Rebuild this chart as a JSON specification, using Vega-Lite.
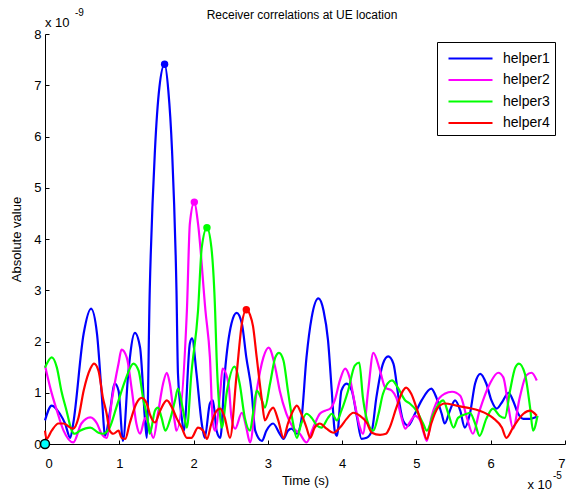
{
  "$schema": "https://vega.github.io/schema/vega-lite/v6.json",
  "width": 520,
  "height": 410,
  "autosize": {"type": "none"},
  "padding": {"left": 45, "top": 34, "right": 3, "bottom": 49},
  "background": "white",
  "config": {
    "view": {"stroke": null},
    "font": "Liberation Sans",
    "axis": {"domainColor": "black", "tickColor": "black", "labelColor": "black", "titleColor": "black", "labelFont": "Liberation Sans", "titleFont": "Liberation Sans", "labelFontSize": 13, "titleFontSize": 13, "titleFontWeight": "normal", "grid": false, "tickSize": -4, "domainWidth": 1}
  },
  "datasets": {
    "curves": [
      {"s":"helper1","t":0,"v":0.46},{"s":"helper1","t":0.09,"v":0.75},{"s":"helper1","t":0.2,"v":0.59},{"s":"helper1","t":0.27,"v":0.4},{"s":"helper1","t":0.34,"v":0.12},{"s":"helper1","t":0.38,"v":0.4},{"s":"helper1","t":0.52,"v":2.15},{"s":"helper1","t":0.62,"v":2.64},{"s":"helper1","t":0.7,"v":2.15},{"s":"helper1","t":0.76,"v":1.04},{"s":"helper1","t":0.81,"v":0.16},{"s":"helper1","t":0.87,"v":0.59},{"s":"helper1","t":0.94,"v":1.18},{"s":"helper1","t":0.99,"v":1.04},{"s":"helper1","t":1.05,"v":0.06},{"s":"helper1","t":1.12,"v":1.37},{"s":"helper1","t":1.21,"v":2.17},{"s":"helper1","t":1.28,"v":1.88},{"s":"helper1","t":1.35,"v":0.4},{"s":"helper1","t":1.37,"v":0.12},{"s":"helper1","t":1.41,"v":2.99},{"s":"helper1","t":1.48,"v":5.73},{"s":"helper1","t":1.54,"v":6.96},{"s":"helper1","t":1.61,"v":7.41},{"s":"helper1","t":1.66,"v":6.9},{"s":"helper1","t":1.71,"v":5.73},{"s":"helper1","t":1.77,"v":2.99},{"s":"helper1","t":1.79,"v":1.37},{"s":"helper1","t":1.84,"v":0.52},{"s":"helper1","t":1.87,"v":0.26},{"s":"helper1","t":1.95,"v":1.96},{"s":"helper1","t":1.98,"v":2.06},{"s":"helper1","t":2.04,"v":1.37},{"s":"helper1","t":2.11,"v":0.4},{"s":"helper1","t":2.15,"v":0.12},{"s":"helper1","t":2.22,"v":0.79},{"s":"helper1","t":2.26,"v":0.85},{"s":"helper1","t":2.31,"v":0.26},{"s":"helper1","t":2.36,"v":0.12},{"s":"helper1","t":2.42,"v":1.37},{"s":"helper1","t":2.51,"v":2.35},{"s":"helper1","t":2.58,"v":2.56},{"s":"helper1","t":2.65,"v":2.35},{"s":"helper1","t":2.71,"v":1.69},{"s":"helper1","t":2.78,"v":1.04},{"s":"helper1","t":2.83,"v":0.26},{"s":"helper1","t":2.92,"v":0.06},{"s":"helper1","t":2.98,"v":0.26},{"s":"helper1","t":3.07,"v":0.4},{"s":"helper1","t":3.16,"v":0.2},{"s":"helper1","t":3.21,"v":0.1},{"s":"helper1","t":3.27,"v":0.26},{"s":"helper1","t":3.32,"v":0.3},{"s":"helper1","t":3.39,"v":0.2},{"s":"helper1","t":3.45,"v":0.46},{"s":"helper1","t":3.52,"v":1.69},{"s":"helper1","t":3.59,"v":2.47},{"s":"helper1","t":3.68,"v":2.84},{"s":"helper1","t":3.75,"v":2.6},{"s":"helper1","t":3.81,"v":2.02},{"s":"helper1","t":3.86,"v":1.04},{"s":"helper1","t":3.9,"v":0.26},{"s":"helper1","t":3.93,"v":0.16},{"s":"helper1","t":3.99,"v":1.04},{"s":"helper1","t":4.06,"v":1.18},{"s":"helper1","t":4.13,"v":1.04},{"s":"helper1","t":4.2,"v":0.52},{"s":"helper1","t":4.26,"v":0.1},{"s":"helper1","t":4.33,"v":0.12},{"s":"helper1","t":4.4,"v":0.26},{"s":"helper1","t":4.46,"v":0.9},{"s":"helper1","t":4.55,"v":1.57},{"s":"helper1","t":4.62,"v":1.71},{"s":"helper1","t":4.69,"v":1.57},{"s":"helper1","t":4.76,"v":0.9},{"s":"helper1","t":4.82,"v":0.46},{"s":"helper1","t":4.89,"v":0.36},{"s":"helper1","t":4.98,"v":0.59},{"s":"helper1","t":5.07,"v":0.85},{"s":"helper1","t":5.2,"v":1.08},{"s":"helper1","t":5.27,"v":0.9},{"s":"helper1","t":5.34,"v":0.59},{"s":"helper1","t":5.38,"v":0.4},{"s":"helper1","t":5.45,"v":0.65},{"s":"helper1","t":5.52,"v":0.85},{"s":"helper1","t":5.59,"v":0.65},{"s":"helper1","t":5.65,"v":0.32},{"s":"helper1","t":5.72,"v":0.59},{"s":"helper1","t":5.79,"v":1.18},{"s":"helper1","t":5.86,"v":1.37},{"s":"helper1","t":5.94,"v":1.18},{"s":"helper1","t":6.01,"v":0.85},{"s":"helper1","t":6.08,"v":0.69},{"s":"helper1","t":6.15,"v":0.81},{"s":"helper1","t":6.24,"v":1.0},{"s":"helper1","t":6.3,"v":0.85},{"s":"helper1","t":6.37,"v":0.59},{"s":"helper1","t":6.44,"v":0.49},{"s":"helper1","t":6.53,"v":0.49},{"s":"helper1","t":6.62,"v":0.53},

      {"s":"helper2","t":0,"v":1.53},{"s":"helper2","t":0.07,"v":1.1},{"s":"helper2","t":0.16,"v":0.65},{"s":"helper2","t":0.25,"v":0.26},{"s":"helper2","t":0.38,"v":0.03},{"s":"helper2","t":0.49,"v":0.4},{"s":"helper2","t":0.61,"v":0.52},{"s":"helper2","t":0.7,"v":0.4},{"s":"helper2","t":0.76,"v":0.2},{"s":"helper2","t":0.83,"v":0.12},{"s":"helper2","t":0.9,"v":0.85},{"s":"helper2","t":0.99,"v":1.57},{"s":"helper2","t":1.03,"v":1.84},{"s":"helper2","t":1.1,"v":1.69},{"s":"helper2","t":1.17,"v":1.04},{"s":"helper2","t":1.23,"v":0.4},{"s":"helper2","t":1.28,"v":0.2},{"s":"helper2","t":1.35,"v":0.51},{"s":"helper2","t":1.39,"v":0.4},{"s":"helper2","t":1.46,"v":0.12},{"s":"helper2","t":1.52,"v":0.59},{"s":"helper2","t":1.59,"v":1.18},{"s":"helper2","t":1.64,"v":1.39},{"s":"helper2","t":1.68,"v":1.18},{"s":"helper2","t":1.75,"v":0.4},{"s":"helper2","t":1.77,"v":0.26},{"s":"helper2","t":1.91,"v":2.6},{"s":"helper2","t":1.95,"v":4.3},{"s":"helper2","t":2.01,"v":4.72},{"s":"helper2","t":2.06,"v":4.3},{"s":"helper2","t":2.16,"v":2.6},{"s":"helper2","t":2.22,"v":1.69},{"s":"helper2","t":2.26,"v":0.4},{"s":"helper2","t":2.29,"v":0.26},{"s":"helper2","t":2.36,"v":1.04},{"s":"helper2","t":2.39,"v":1.47},{"s":"helper2","t":2.47,"v":1.18},{"s":"helper2","t":2.51,"v":0.52},{"s":"helper2","t":2.56,"v":0.3},{"s":"helper2","t":2.65,"v":0.61},{"s":"helper2","t":2.71,"v":0.32},{"s":"helper2","t":2.76,"v":0.03},{"s":"helper2","t":2.85,"v":1.04},{"s":"helper2","t":2.94,"v":1.69},{"s":"helper2","t":3.01,"v":1.88},{"s":"helper2","t":3.1,"v":1.49},{"s":"helper2","t":3.16,"v":1.04},{"s":"helper2","t":3.25,"v":0.59},{"s":"helper2","t":3.34,"v":0.32},{"s":"helper2","t":3.43,"v":0.2},{"s":"helper2","t":3.52,"v":0.03},{"s":"helper2","t":3.61,"v":0.32},{"s":"helper2","t":3.7,"v":0.59},{"s":"helper2","t":3.77,"v":0.65},{"s":"helper2","t":3.84,"v":0.69},{"s":"helper2","t":3.9,"v":0.85},{"s":"helper2","t":3.97,"v":1.24},{"s":"helper2","t":4.04,"v":1.47},{"s":"helper2","t":4.1,"v":1.3},{"s":"helper2","t":4.17,"v":0.79},{"s":"helper2","t":4.24,"v":0.32},{"s":"helper2","t":4.28,"v":0.2},{"s":"helper2","t":4.35,"v":1.04},{"s":"helper2","t":4.42,"v":1.78},{"s":"helper2","t":4.51,"v":1.43},{"s":"helper2","t":4.58,"v":1.1},{"s":"helper2","t":4.67,"v":1.04},{"s":"helper2","t":4.73,"v":0.9},{"s":"helper2","t":4.8,"v":0.51},{"s":"helper2","t":4.85,"v":0.3},{"s":"helper2","t":4.91,"v":0.42},{"s":"helper2","t":4.98,"v":0.55},{"s":"helper2","t":5.05,"v":0.46},{"s":"helper2","t":5.09,"v":0.26},{"s":"helper2","t":5.14,"v":0.06},{"s":"helper2","t":5.2,"v":0.51},{"s":"helper2","t":5.27,"v":0.81},{"s":"helper2","t":5.38,"v":0.98},{"s":"helper2","t":5.48,"v":1.02},{"s":"helper2","t":5.59,"v":0.94},{"s":"helper2","t":5.68,"v":0.51},{"s":"helper2","t":5.76,"v":0.2},{"s":"helper2","t":5.85,"v":0.65},{"s":"helper2","t":5.99,"v":1.18},{"s":"helper2","t":6.1,"v":1.39},{"s":"helper2","t":6.17,"v":1.3},{"s":"helper2","t":6.24,"v":0.71},{"s":"helper2","t":6.3,"v":0.3},{"s":"helper2","t":6.39,"v":0.9},{"s":"helper2","t":6.48,"v":1.34},{"s":"helper2","t":6.55,"v":1.39},{"s":"helper2","t":6.62,"v":1.24},

      {"s":"helper3","t":0,"v":1.49},{"s":"helper3","t":0.09,"v":1.69},{"s":"helper3","t":0.16,"v":1.49},{"s":"helper3","t":0.22,"v":1.04},{"s":"helper3","t":0.29,"v":0.65},{"s":"helper3","t":0.36,"v":0.26},{"s":"helper3","t":0.4,"v":0.2},{"s":"helper3","t":0.47,"v":0.26},{"s":"helper3","t":0.61,"v":0.32},{"s":"helper3","t":0.72,"v":0.22},{"s":"helper3","t":0.78,"v":0.2},{"s":"helper3","t":0.87,"v":0.32},{"s":"helper3","t":0.96,"v":0.71},{"s":"helper3","t":1.08,"v":1.24},{"s":"helper3","t":1.19,"v":1.57},{"s":"helper3","t":1.26,"v":1.43},{"s":"helper3","t":1.32,"v":0.9},{"s":"helper3","t":1.39,"v":0.4},{"s":"helper3","t":1.41,"v":0.2},{"s":"helper3","t":1.48,"v":0.65},{"s":"helper3","t":1.52,"v":0.71},{"s":"helper3","t":1.57,"v":0.51},{"s":"helper3","t":1.62,"v":0.26},{"s":"helper3","t":1.68,"v":0.46},{"s":"helper3","t":1.75,"v":0.85},{"s":"helper3","t":1.79,"v":1.08},{"s":"helper3","t":1.86,"v":0.65},{"s":"helper3","t":1.91,"v":0.32},{"s":"helper3","t":1.97,"v":1.37},{"s":"helper3","t":2.06,"v":2.6},{"s":"helper3","t":2.11,"v":3.83},{"s":"helper3","t":2.18,"v":4.22},{"s":"helper3","t":2.24,"v":3.83},{"s":"helper3","t":2.29,"v":2.6},{"s":"helper3","t":2.31,"v":1.69},{"s":"helper3","t":2.36,"v":0.51},{"s":"helper3","t":2.38,"v":0.32},{"s":"helper3","t":2.45,"v":1.04},{"s":"helper3","t":2.55,"v":1.51},{"s":"helper3","t":2.62,"v":1.18},{"s":"helper3","t":2.69,"v":0.51},{"s":"helper3","t":2.76,"v":0.26},{"s":"helper3","t":2.8,"v":0.59},{"s":"helper3","t":2.85,"v":1.04},{"s":"helper3","t":2.92,"v":0.85},{"s":"helper3","t":2.96,"v":0.71},{"s":"helper3","t":3.03,"v":1.18},{"s":"helper3","t":3.1,"v":1.69},{"s":"helper3","t":3.15,"v":1.78},{"s":"helper3","t":3.21,"v":1.63},{"s":"helper3","t":3.27,"v":1.04},{"s":"helper3","t":3.34,"v":0.4},{"s":"helper3","t":3.39,"v":0.12},{"s":"helper3","t":3.45,"v":0.4},{"s":"helper3","t":3.52,"v":0.59},{"s":"helper3","t":3.59,"v":0.51},{"s":"helper3","t":3.66,"v":0.36},{"s":"helper3","t":3.72,"v":0.32},{"s":"helper3","t":3.81,"v":0.51},{"s":"helper3","t":3.86,"v":0.59},{"s":"helper3","t":3.93,"v":0.46},{"s":"helper3","t":3.99,"v":0.65},{"s":"helper3","t":4.08,"v":1.04},{"s":"helper3","t":4.17,"v":1.53},{"s":"helper3","t":4.23,"v":1.59},{"s":"helper3","t":4.28,"v":0.9},{"s":"helper3","t":4.35,"v":0.4},{"s":"helper3","t":4.42,"v":0.26},{"s":"helper3","t":4.49,"v":0.59},{"s":"helper3","t":4.55,"v":0.98},{"s":"helper3","t":4.67,"v":1.24},{"s":"helper3","t":4.75,"v":1.1},{"s":"helper3","t":4.85,"v":0.85},{"s":"helper3","t":4.91,"v":0.79},{"s":"helper3","t":5.0,"v":0.65},{"s":"helper3","t":5.09,"v":0.4},{"s":"helper3","t":5.14,"v":0.26},{"s":"helper3","t":5.23,"v":0.59},{"s":"helper3","t":5.36,"v":0.85},{"s":"helper3","t":5.43,"v":0.59},{"s":"helper3","t":5.5,"v":0.32},{"s":"helper3","t":5.56,"v":0.51},{"s":"helper3","t":5.68,"v":0.59},{"s":"helper3","t":5.72,"v":0.61},{"s":"helper3","t":5.79,"v":0.4},{"s":"helper3","t":5.85,"v":0.16},{"s":"helper3","t":5.94,"v":0.49},{"s":"helper3","t":6.03,"v":0.69},{"s":"helper3","t":6.12,"v":0.55},{"s":"helper3","t":6.19,"v":0.51},{"s":"helper3","t":6.26,"v":1.04},{"s":"helper3","t":6.33,"v":1.49},{"s":"helper3","t":6.38,"v":1.57},{"s":"helper3","t":6.46,"v":1.37},{"s":"helper3","t":6.53,"v":0.71},{"s":"helper3","t":6.57,"v":0.26},{"s":"helper3","t":6.63,"v":0.55},

      {"s":"helper4","t":0,"v":0.26},{"s":"helper4","t":0.02,"v":0.1},{"s":"helper4","t":0.09,"v":0.26},{"s":"helper4","t":0.18,"v":0.4},{"s":"helper4","t":0.25,"v":0.4},{"s":"helper4","t":0.34,"v":0.32},{"s":"helper4","t":0.38,"v":0.3},{"s":"helper4","t":0.45,"v":0.51},{"s":"helper4","t":0.52,"v":1.04},{"s":"helper4","t":0.61,"v":1.47},{"s":"helper4","t":0.66,"v":1.57},{"s":"helper4","t":0.72,"v":1.43},{"s":"helper4","t":0.78,"v":0.9},{"s":"helper4","t":0.83,"v":0.59},{"s":"helper4","t":0.87,"v":0.26},{"s":"helper4","t":0.92,"v":0.2},{"s":"helper4","t":0.99,"v":0.26},{"s":"helper4","t":1.03,"v":0.12},{"s":"helper4","t":1.08,"v":0.1},{"s":"helper4","t":1.14,"v":0.4},{"s":"helper4","t":1.23,"v":0.79},{"s":"helper4","t":1.3,"v":0.9},{"s":"helper4","t":1.37,"v":0.79},{"s":"helper4","t":1.41,"v":0.59},{"s":"helper4","t":1.48,"v":0.42},{"s":"helper4","t":1.55,"v":0.65},{"s":"helper4","t":1.64,"v":0.85},{"s":"helper4","t":1.71,"v":0.71},{"s":"helper4","t":1.77,"v":0.51},{"s":"helper4","t":1.84,"v":0.32},{"s":"helper4","t":1.91,"v":0.12},{"s":"helper4","t":1.97,"v":0.12},{"s":"helper4","t":2.06,"v":0.32},{"s":"helper4","t":2.13,"v":0.26},{"s":"helper4","t":2.18,"v":0.1},{"s":"helper4","t":2.24,"v":0.4},{"s":"helper4","t":2.31,"v":0.65},{"s":"helper4","t":2.36,"v":0.69},{"s":"helper4","t":2.42,"v":0.51},{"s":"helper4","t":2.49,"v":0.12},{"s":"helper4","t":2.58,"v":1.37},{"s":"helper4","t":2.65,"v":2.35},{"s":"helper4","t":2.71,"v":2.62},{"s":"helper4","t":2.76,"v":2.52},{"s":"helper4","t":2.8,"v":2.3},{"s":"helper4","t":2.85,"v":1.69},{"s":"helper4","t":2.92,"v":0.85},{"s":"helper4","t":2.96,"v":0.46},{"s":"helper4","t":3.03,"v":0.65},{"s":"helper4","t":3.07,"v":0.71},{"s":"helper4","t":3.14,"v":0.46},{"s":"helper4","t":3.21,"v":0.12},{"s":"helper4","t":3.27,"v":0.4},{"s":"helper4","t":3.34,"v":0.65},{"s":"helper4","t":3.39,"v":0.75},{"s":"helper4","t":3.45,"v":0.59},{"s":"helper4","t":3.52,"v":0.32},{"s":"helper4","t":3.57,"v":0.12},{"s":"helper4","t":3.63,"v":0.32},{"s":"helper4","t":3.7,"v":0.4},{"s":"helper4","t":3.79,"v":0.3},{"s":"helper4","t":3.88,"v":0.22},{"s":"helper4","t":3.97,"v":0.32},{"s":"helper4","t":4.06,"v":0.49},{"s":"helper4","t":4.15,"v":0.61},{"s":"helper4","t":4.24,"v":0.55},{"s":"helper4","t":4.33,"v":0.42},{"s":"helper4","t":4.4,"v":0.22},{"s":"helper4","t":4.51,"v":0.18},{"s":"helper4","t":4.59,"v":0.2},{"s":"helper4","t":4.64,"v":0.32},{"s":"helper4","t":4.73,"v":0.71},{"s":"helper4","t":4.82,"v":1.04},{"s":"helper4","t":4.86,"v":1.1},{"s":"helper4","t":4.93,"v":0.98},{"s":"helper4","t":5.0,"v":0.71},{"s":"helper4","t":5.07,"v":0.4},{"s":"helper4","t":5.14,"v":0.1},{"s":"helper4","t":5.2,"v":0.4},{"s":"helper4","t":5.29,"v":0.71},{"s":"helper4","t":5.38,"v":0.79},{"s":"helper4","t":5.54,"v":0.75},{"s":"helper4","t":5.68,"v":0.71},{"s":"helper4","t":5.85,"v":0.65},{"s":"helper4","t":6.03,"v":0.51},{"s":"helper4","t":6.15,"v":0.32},{"s":"helper4","t":6.21,"v":0.12},{"s":"helper4","t":6.3,"v":0.32},{"s":"helper4","t":6.44,"v":0.59},{"s":"helper4","t":6.53,"v":0.65},{"s":"helper4","t":6.62,"v":0.55}
    ],
    "peaks": [
      {"s":"helper1","t":1.61,"v":7.41},
      {"s":"helper2","t":2.01,"v":4.72},
      {"s":"helper3","t":2.18,"v":4.22},
      {"s":"helper4","t":2.71,"v":2.62}
    ],
    "origin": [{"t":0,"v":0}]
  },
  "layer": [
    {
      "data": {"name": "curves"},
      "mark": {"type": "line", "strokeWidth": 2.2, "interpolate": "monotone"},
      "encoding": {
        "x": {"field": "t", "type": "quantitative", "scale": {"domain": [0, 7], "nice": false}, "axis": {"values": [0,1,2,3,4,5,6,7], "format": "d", "title": "Time (s)", "labelPadding": 17, "titlePadding": 4}},
        "y": {"field": "v", "type": "quantitative", "scale": {"domain": [0, 8], "nice": false}, "axis": {"values": [0,1,2,3,4,5,6,7,8], "format": "d", "title": "Absolute value", "labelPadding": 8, "titlePadding": 10}},
        "color": {"field": "s", "type": "nominal", "scale": {"domain": ["helper1","helper2","helper3","helper4"], "range": ["#0000ff","#ff00ff","#00ff00","#ff0000"]},
          "legend": {"title": null, "orient": "none", "legendX": 392, "legendY": 8, "symbolType": "M-2.2,0H2.2", "symbolSize": 400, "symbolStrokeWidth": 2.2, "symbolOffset": 17, "labelFontSize": 14, "labelFont": "Liberation Sans", "labelColor": "black", "strokeColor": "black", "padding": 5, "rowPadding": 2.5, "labelOffset": 21, "fillColor": "white"}},
        "detail": {"field": "s"}
      }
    },
    {
      "data": {"name": "peaks"},
      "mark": {"type": "point", "filled": true, "size": 55, "opacity": 1},
      "encoding": {
        "x": {"field": "t", "type": "quantitative"},
        "y": {"field": "v", "type": "quantitative"},
        "color": {"field": "s", "type": "nominal", "legend": null}
      }
    },
    {
      "data": {"name": "origin"},
      "mark": {"type": "point", "filled": true, "size": 80, "fill": "#00ffff", "stroke": "black", "strokeWidth": 1.5, "opacity": 1, "clip": false},
      "encoding": {
        "x": {"field": "t", "type": "quantitative"},
        "y": {"field": "v", "type": "quantitative"}
      }
    },
    {
      "data": {"values": [{}]},
      "mark": {"type": "text", "text": "Receiver correlations at UE location", "align": "center", "baseline": "alphabetic", "fontSize": 12, "dx": -3, "dy": -15, "font": "Liberation Sans", "color": "black"},
      "encoding": {"x": {"datum": 3.5}, "y": {"datum": 8}}
    },
    {
      "data": {"values": [{}]},
      "mark": {"type": "text", "text": "x 10", "align": "left", "baseline": "alphabetic", "fontSize": 13, "dy": -7, "font": "Liberation Sans", "color": "black"},
      "encoding": {"x": {"datum": 0}, "y": {"datum": 8}}
    },
    {
      "data": {"values": [{}]},
      "mark": {"type": "text", "text": "-9", "align": "left", "baseline": "alphabetic", "fontSize": 10, "dx": 30, "dy": -18, "font": "Liberation Sans", "color": "black"},
      "encoding": {"x": {"datum": 0}, "y": {"datum": 8}}
    },
    {
      "data": {"values": [{}]},
      "mark": {"type": "text", "text": "x 10", "align": "right", "baseline": "alphabetic", "fontSize": 13, "dx": -13, "dy": 45, "font": "Liberation Sans", "color": "black"},
      "encoding": {"x": {"datum": 7}, "y": {"datum": 0}}
    },
    {
      "data": {"values": [{}]},
      "mark": {"type": "text", "text": "-5", "align": "left", "baseline": "alphabetic", "fontSize": 10, "dx": -12, "dy": 35, "font": "Liberation Sans", "color": "black"},
      "encoding": {"x": {"datum": 7}, "y": {"datum": 0}}
    }
  ]
}
